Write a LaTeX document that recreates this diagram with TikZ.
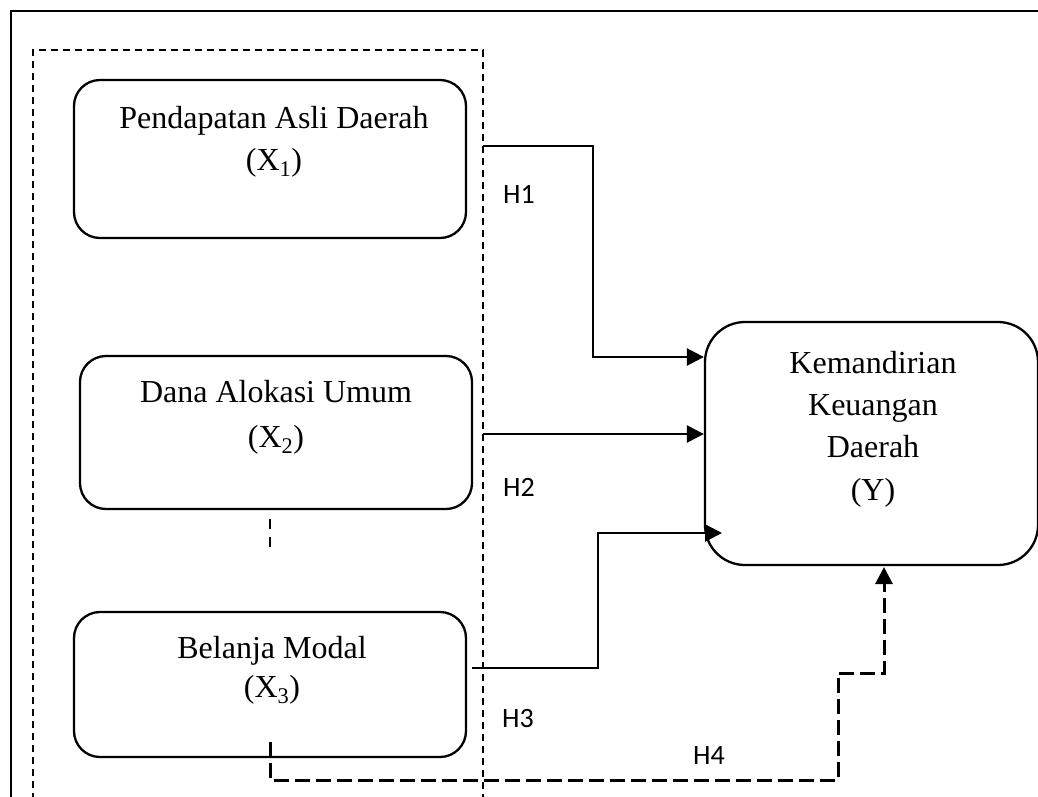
\documentclass[tikz,border=0pt]{standalone}
\usepackage{fontspec}
\setmainfont{Liberation Serif}
\newfontfamily\hfont{Carlito}
\usetikzlibrary{arrows.meta}
\begin{document}
\begin{tikzpicture}[x=1pt,y=-1pt,
  box/.style={draw,line width=2.3pt,rounded corners=26pt,inner sep=0pt},
  txt/.style={inner sep=0pt,anchor=base,font=\fontsize{32}{42}\selectfont},
  hlab/.style={inner sep=0pt,anchor=base west,font=\hfont\fontsize{28}{30}\selectfont},
  conn/.style={line width=2.5pt,-{Triangle[length=17pt,width=17pt]}},
  dconn/.style={line width=3pt,dash pattern=on 15pt off 6pt,-{Triangle[length=17pt,width=17pt]}},
  frame/.style={line width=2.5pt},
  grp/.style={line width=2.2pt,dash pattern=on 7pt off 5pt}]
\useasboundingbox (0,0) rectangle (1038,796);
% outer frame
\draw[frame] (11,800) -- (11,11) -- (1040,11);
% dashed group
\draw[grp] (33,800) -- (33,50) -- (483,50) -- (483,800);
% boxes
\node[box,minimum width=392pt,minimum height=158pt] (X1) at (270,159) {};
\node[box,minimum width=392pt,minimum height=153pt] (X2) at (276,432.5) {};
\node[box,minimum width=392pt,minimum height=145pt] (X3) at (270,684.5) {};
\node[box,rounded corners=40pt,minimum width=333pt,minimum height=243pt] (Y) at (871.5,443.5) {};
% texts
\node[txt] (t1a) at (274,128) {Pendapatan Asli Daerah};
\node[txt] (t1b) at (274,170) {(X\textsubscript{1})};
\node[txt] (t2a) at (276,402) {Dana Alokasi Umum};
\node[txt] (t2b) at (276,447) {(X\textsubscript{2})};
\node[txt] (t3a) at (272,658) {Belanja Modal};
\node[txt] (t3b) at (272,697) {(X\textsubscript{3})};
\node[txt] (tya) at (873,373) {Kemandirian};
\node[txt] (tyb) at (873,415) {Keuangan};
\node[txt] (tyc) at (873,457) {Daerah};
\node[txt] (tyd) at (873,500) {(Y)};
% labels
\node[hlab] (h1) at (503,203) {H1};
\node[hlab] (h2) at (503,496) {H2};
\node[hlab] (h3) at (502,727) {H3};
\node[hlab] (h4) at (693,764) {H4};
% connector coordinates
\coordinate (s1) at (483,146);
\coordinate (b1) at (593,146);
\coordinate (c1) at (593,357);
\coordinate (s2) at (483,434);
\coordinate (s3) at (472,668);
\coordinate (b3) at (598,668);
\coordinate (c3) at (598,533);
\coordinate (e3) at (722,533);
\coordinate (s4) at (270,742);
\coordinate (a4) at (270,780);
\coordinate (b4) at (838,780);
\coordinate (c4) at (838,673);
\coordinate (d4) at (884,673);
\coordinate (e4) at (884,567);
% connectors
\draw[conn] (s1) -- (b1) -- (c1) -- (Y.west |- c1);
\draw[conn] (s2) -- (Y.west |- s2);
\draw[conn] (s3) -- (b3) -- (c3) -- (e3);
\draw[dconn] (s4) -- (a4) -- (b4) -- (c4) -- (d4) -- (e4);
% small dashed mark between X2 and X3
\draw[line width=2.5pt,dash pattern=on 10pt off 8pt] (X2.south -| 270,0) ++(0,9) -- ++(0,30);
\end{tikzpicture}
\end{document}
